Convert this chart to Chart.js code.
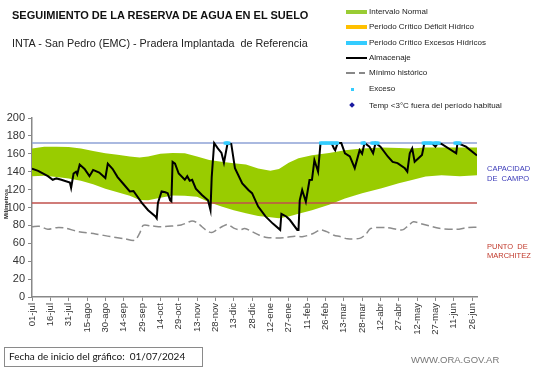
<!DOCTYPE html>
<html>
<head>
<meta charset="utf-8">
<script src="https://cdn.jsdelivr.net/npm/chart.js@4"></script>
<style>
  body { margin: 0; background: #fff; font-family: "Liberation Sans", Arial, sans-serif; }
  #wrap { position: relative; width: 541px; height: 368px; overflow: hidden; }
  #c { position: absolute; left: 0; top: 0; }
  .t { position: absolute; white-space: nowrap; line-height: 1; }
  .leg { position: absolute; left: 369px; font-size: 8px; color: #222; white-space: nowrap; line-height: 1; }
  .sw { position: absolute; }
</style>
</head>
<body>
<div id="wrap">
  <canvas id="c" width="541" height="368"></canvas>

  <div class="t" style="left:12px;top:10px;font-size:11px;font-weight:bold;color:#111">SEGUIMIENTO DE LA RESERVA DE AGUA EN EL SUELO</div>
  <div class="t" style="left:12px;top:38px;font-size:10.8px;color:#222">INTA - San Pedro (EMC) - Pradera Implantada&nbsp; de Referencia</div>

  <div class="sw" style="left:346px;top:10px;width:21px;height:4px;background:#99cc33"></div>
  <div class="leg" style="top:8px">Intervalo Normal</div>
  <div class="sw" style="left:346px;top:25px;width:21px;height:4px;background:#ffc000"></div>
  <div class="leg" style="top:23px">Periodo Crítico Déficit Hídrico</div>
  <div class="sw" style="left:346px;top:41px;width:21px;height:4px;background:#33ccff"></div>
  <div class="leg" style="top:39px">Periodo Crítico Excesos Hídricos</div>
  <div class="sw" style="left:346px;top:57px;width:21px;height:2px;background:#000"></div>
  <div class="leg" style="top:54px">Almacenaje</div>
  <div class="sw" style="left:346px;top:72px;width:9px;height:2px;background:#888"></div>
  <div class="sw" style="left:359px;top:72px;width:6px;height:2px;background:#888"></div>
  <div class="leg" style="top:69px">Mínimo histórico</div>
  <div class="sw" style="left:351px;top:88px;width:3px;height:3px;background:#33ccff"></div>
  <div class="leg" style="top:85px">Exceso</div>
  <div class="sw" style="left:350px;top:103px;width:4px;height:4px;background:#1a1aa0;transform:rotate(45deg)"></div>
  <div class="leg" style="top:102px">Temp &lt;3°C fuera del período habitual</div>

  <div class="t" style="left:487px;top:165px;font-size:7.5px;color:#3a3ab8">CAPACIDAD</div>
  <div class="t" style="left:487px;top:175px;font-size:7.5px;color:#3a3ab8">DE&nbsp; CAMPO</div>
  <div class="t" style="left:487px;top:243px;font-size:7.5px;color:#c0392b">PUNTO&nbsp; DE</div>
  <div class="t" style="left:487px;top:252px;font-size:7.5px;color:#c0392b">MARCHITEZ</div>

  <div class="t" style="left:-9px;top:201px;font-size:6px;font-weight:bold;color:#222;transform:rotate(-90deg)">Milímetros</div>

  <div class="t" style="left:4px;top:347px;width:197px;height:18px;border:1px solid #8a8a8a;"></div>
  <div class="t" style="left:9px;top:351px;font-size:10px;font-family:Lato,'Liberation Sans',sans-serif;color:#111">Fecha de inicio del gráfico:&nbsp; 01/07/2024</div>
  <div class="t" style="left:411px;top:355px;font-size:9.5px;color:#777">WWW.ORA.GOV.AR</div>
</div>

<script>
// eje x: dias desde 01-jul
const tickDays = [0, 15, 30, 45, 60, 75, 90, 105, 120, 135, 150, 165, 180, 195, 210, 225, 240, 255, 270, 285, 300, 315, 330, 345, 360]
const tickLabels = ['01-jul', '16-jul', '31-jul', '15-ago', '30-ago', '14-sep', '29-sep', '14-oct', '29-oct', '13-nov', '28-nov', '13-dic', '28-dic',
  '12-ene', '27-ene', '11-feb', '26-feb', '13-mar', '28-mar', '12-abr', '27-abr', '12-may', '27-may', '11-jun', '26-jun']

// intervalo normal (banda verde)
const bandaDias = [0, 10, 20, 30, 40, 50, 60, 70, 80, 88, 95, 105, 115, 125, 135, 145, 155, 165, 175, 185, 195, 202, 210, 218, 229, 243, 256, 270, 286, 300, 310, 322, 335, 350, 364]
const bandaSup = [166, 168, 168, 167.5, 166, 163, 160.5, 159, 157, 156, 157, 160, 161, 160.5, 157, 153, 151, 149.5, 148, 143.5, 141, 143, 150, 155, 158.5, 161, 164, 166, 167, 166.5, 166, 167, 167, 167, 167]
const bandaInf = [135, 135.5, 134, 132.5, 130, 126, 121, 117, 113, 108.5, 108, 111, 113.5, 113, 112, 106, 101, 97, 93.5, 90.5, 89, 88, 90, 93, 97, 103, 110, 116, 121.5, 127, 130.5, 134.5, 136, 135, 136]

// almacenaje
const almDias = [0, 5, 13, 17, 20, 24, 31, 32, 34, 36, 37, 39, 43, 47, 50, 55, 60, 62, 66, 70, 75, 80, 83, 90, 95, 101, 102, 103, 106, 109, 111, 113, 114,
  115, 117, 120, 125, 127, 129, 131, 134, 139, 144, 146, 147, 149, 152, 155, 157, 160, 163, 166, 172, 177, 180, 185, 191, 197, 203, 204, 208, 211,
  217, 218, 219, 221, 224, 227, 229, 231, 234, 236, 245, 247, 248, 250, 253, 256, 260, 264, 268, 270, 272, 276, 279, 281, 285, 291, 295, 299, 305,
  307, 309, 311, 313, 319, 321, 327, 330, 332, 335, 347, 348, 355, 364]
const almVal = [143.5, 141, 135, 131, 132.5, 131, 128, 122, 138, 140, 137, 148, 143, 135, 142, 139, 133, 149, 143, 134, 126, 118, 118.5, 105, 97, 90, 88, 105, 118, 117, 116, 108, 107,
  151, 149, 138, 131, 135, 130, 131, 121, 114, 108, 97, 134, 172, 166, 161, 150, 172, 171, 144, 127, 119.5, 116, 101, 90, 82, 75, 93, 90, 86,
  75, 75, 108, 119.5, 106.5, 130.7, 131, 153, 140, 172, 172, 166, 164, 172, 172, 160.5, 157, 144, 164, 160, 172, 168, 160.5, 172, 168, 157, 151, 149.6, 143.8,
  140, 160.5, 166, 151, 158.6, 172, 172, 168, 172, 171, 160.5, 172, 168, 158]

// minimo historico
const minDias = [0, 6, 13, 20, 27, 38, 52, 64, 76, 84, 88, 91, 97, 106, 116, 122, 127, 131, 135, 139, 143, 147, 151, 156, 160, 165, 170, 174, 180, 186, 192,
  200, 208, 215, 222, 230, 236, 241, 247, 252, 258, 268, 273, 277, 290, 303, 308, 312, 318, 325, 333, 347, 356, 364]
const minVal = [78.5, 79, 75.6, 77.5, 77, 73, 70.5, 67.5, 65, 63.5, 71, 80, 79.5, 78.5, 79.5, 80.5, 83, 85, 83, 78.5, 74, 72, 75, 79, 81, 77, 75, 76.5, 73, 69, 66.5,
  66, 66.5, 68, 67.5, 71, 75, 73, 69, 67.5, 65, 65.5, 70, 76.5, 77.5, 75, 80, 84, 82, 79.5, 76.7, 75.6, 77.5, 78]

// dias con exceso
const excesoDias = [158, 159, 160, 161, 236, 237, 238, 239, 240, 241, 242, 243, 244, 245, 246, 247, 248, 249, 250, 270, 271, 272,
  278, 279, 280, 281, 282, 283, 320, 321, 322, 323, 324, 325, 326, 327, 329, 330, 331, 332, 333, 346, 347, 348, 349, 350]

const capacidadCampo = 172
const puntoMarchitez = 105

const pts = (xs, ys) => xs.map((d, i) => ({ x: d, y: ys[i] }))

const config = {
  type: 'line',
  data: {
    datasets: [
      { data: pts(bandaDias, bandaInf), borderWidth: 0, pointRadius: 0, fill: false, order: 10 },
      { data: pts(bandaDias, bandaSup), borderWidth: 0, pointRadius: 0, fill: 0, backgroundColor: '#99cc00', order: 9 },
      { data: [{ x: 0, y: capacidadCampo }, { x: 364, y: capacidadCampo }], borderColor: '#8ea2d6', borderWidth: 1.5, pointRadius: 0, order: 5 },
      { data: [{ x: 0, y: puntoMarchitez }, { x: 364, y: puntoMarchitez }], borderColor: '#c0504d', borderWidth: 1.5, pointRadius: 0, order: 5 },
      { data: pts(minDias, minVal), borderColor: '#8c8c8c', borderWidth: 1.5, borderDash: [8, 4], pointRadius: 0, tension: 0.3, order: 4 },
      { data: pts(almDias, almVal), borderColor: '#000', borderWidth: 2, pointRadius: 0, order: 2 },
      { data: excesoDias.map(d => ({ x: d, y: capacidadCampo })), showLine: false, pointStyle: 'rect', pointRadius: 2.2,
        pointBackgroundColor: '#33ccff', pointBorderWidth: 0, order: 1 },
    ],
  },
  options: {
    responsive: false,
    animation: false,
    layout: { padding: { left: 0, top: 118, right: 64, bottom: 0 } },
    plugins: { legend: { display: false }, tooltip: { enabled: false } },
    scales: {
      x: {
        type: 'linear',
        min: 0,
        max: 364,
        afterBuildTicks: (s) => { s.ticks = tickDays.map(v => ({ value: v })) },
        afterFit: (s) => { s.height = 71 },
        ticks: {
          autoSkip: false,
          maxRotation: 90,
          minRotation: 90,
          padding: 2,
          color: '#333',
          font: { family: 'Liberation Sans', size: 9.5 },
          callback: (v) => tickLabels[tickDays.indexOf(v)],
        },
        grid: { drawOnChartArea: false, drawTicks: true, tickLength: 4, color: '#888' },
        border: { color: '#888', width: 1.5 },
      },
      y: {
        min: 0,
        max: 200,
        afterFit: (s) => { s.width = 32 },
        ticks: { stepSize: 20, padding: 3, color: '#333', font: { family: 'Liberation Sans', size: 11 } },
        grid: { drawOnChartArea: false, drawTicks: true, tickLength: 4, color: '#888' },
        border: { color: '#888', width: 1.5 },
      },
    },
  },
}

var myChart = new Chart(document.getElementById('c'), config)
</script>
</body>
</html>
